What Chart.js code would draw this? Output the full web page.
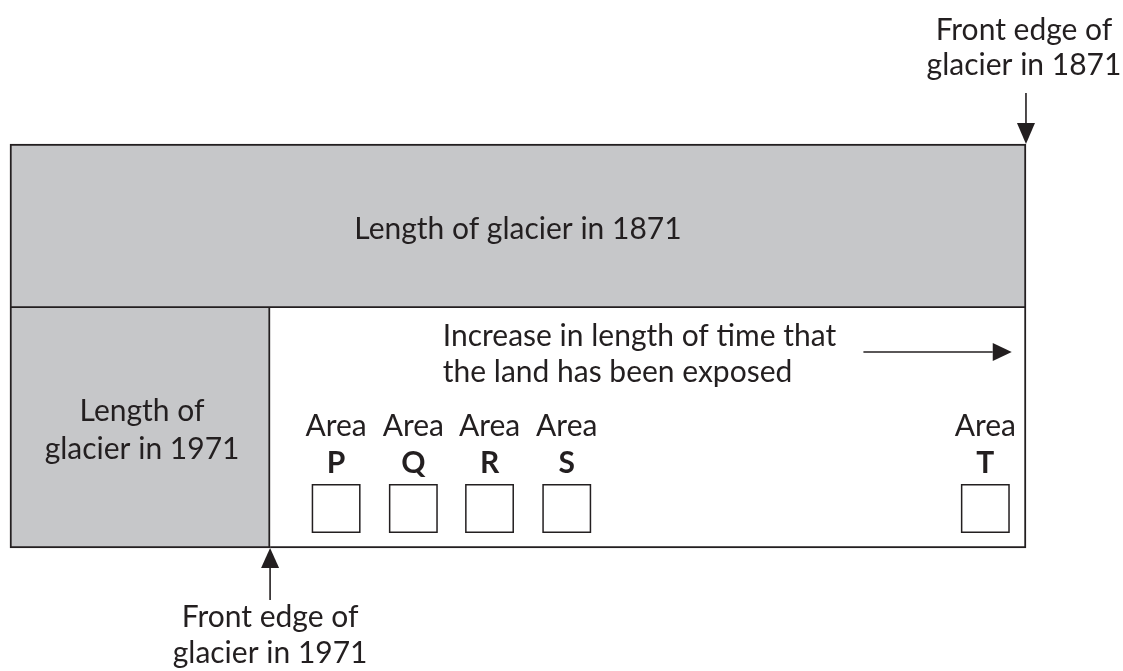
<!DOCTYPE html>
<html>
<head>
<meta charset="utf-8">
<script src="https://cdn.jsdelivr.net/npm/chart.js@4.4.1/dist/chart.umd.min.js"></script>
<style>
  html, body { margin: 0; padding: 0; background: #fff; }
  #wrap { width: 1123px; height: 671px; position: relative; }
</style>
</head>
<body>
<div id="wrap"><canvas id="glacier"></canvas></div>
<script>
// lengths are % of the 1871 glacier length, measured from the glacier head
const years = ['1871', '1971'];
const glacierLength = [100, 25.6];
const areaNames = ['P', 'Q', 'R', 'S', 'T'];
const areaPos = [32.1, 39.7, 47.2, 54.8, 96.0];

const INK = '#231f20';
const GREY = '#c6c7c9';
const FONT = 'Lato, "Open Sans", sans-serif';
const SIZE = '30px ';

// vertical layout (y scale runs 0..671 top-down)
const rowTop = { '1871': [144, 308], '1971': [308, 548] };
const mid = r => (r[0] + r[1]) / 2;
const thick = r => r[1] - r[0];
const boxRow = 508.5;

function arrow(ctx, x1, y1, x2, y2, head, half) {
  const a = Math.atan2(y2 - y1, x2 - x1);
  const bx = x2 - Math.cos(a) * head, by = y2 - Math.sin(a) * head;
  ctx.beginPath();
  ctx.moveTo(x1, y1);
  ctx.lineTo(bx, by);
  ctx.stroke();
  ctx.beginPath();
  ctx.moveTo(x2, y2);
  ctx.lineTo(bx + Math.sin(a) * half, by - Math.cos(a) * half);
  ctx.lineTo(bx - Math.sin(a) * half, by + Math.cos(a) * half);
  ctx.closePath();
  ctx.fill();
}

const labelsPlugin = {
  id: 'glacierLabels',
  afterDatasetsDraw(chart) {
    const ctx = chart.ctx;
    const xs = chart.scales.x, ys = chart.scales.y;
    const px = v => xs.getPixelForValue(v);
    const py = v => ys.getPixelForValue(v);
    ctx.save();
    ctx.fillStyle = INK;
    ctx.strokeStyle = INK;
    ctx.lineWidth = 1.6;
    ctx.textBaseline = 'alphabetic';
    ctx.font = SIZE + FONT;

    // front edge 1871
    const e1 = px(glacierLength[0]);
    ctx.textAlign = 'center';
    ctx.fillText('Front edge of', e1 - 2, py(40));
    ctx.fillText('glacier in ' + years[0], e1 - 2, py(75));
    arrow(ctx, e1, py(93), e1, py(rowTop['1871'][0]), 21, 9);

    // front edge 1971
    const e2 = px(glacierLength[1]);
    arrow(ctx, e2, py(600), e2, py(rowTop['1971'][1]), 20, 9);
    ctx.fillText('Front edge of', e2, py(627));
    ctx.fillText('glacier in ' + years[1], e2, py(663));

    // glacier lengths
    ctx.fillText('Length of glacier in ' + years[0], px(glacierLength[0] / 2), py(239));
    ctx.fillText('Length of', px(glacierLength[1] / 2) + 2, py(421));
    ctx.fillText('glacier in ' + years[1], px(glacierLength[1] / 2) + 2, py(459));

    // exposure note
    ctx.textAlign = 'left';
    ctx.fillText('Increase in length of time that', px(42.6), py(346));
    ctx.fillText('the land has been exposed', px(42.6), py(382));
    arrow(ctx, px(84), py(352), px(98.6), py(352), 19, 9);

    // area labels
    ctx.textAlign = 'center';
    areaNames.forEach((n, i) => {
      ctx.font = SIZE + FONT;
      ctx.fillText('Area', px(areaPos[i]), py(436));
      ctx.font = 'bold ' + SIZE + FONT;
      ctx.fillText(n, px(areaPos[i]), py(473));
    });
    ctx.restore();
  }
};

const base = { borderColor: INK, borderSkipped: false, grouped: false };

new Chart(document.getElementById('glacier'), {
  type: 'bar',
  data: {
    datasets: [
      Object.assign({
        label: 'Length of glacier in 1871',
        data: [{ x: [0, glacierLength[0]], y: mid(rowTop['1871']) }],
        backgroundColor: GREY,
        borderWidth: 2,
        barThickness: thick(rowTop['1871']),
        order: 3
      }, base),
      Object.assign({
        label: 'Exposed land',
        data: [{ x: [glacierLength[1], glacierLength[0]], y: mid(rowTop['1971']) }],
        backgroundColor: '#ffffff',
        borderWidth: { top: 0, left: 0, right: 2, bottom: 2 },
        barThickness: thick(rowTop['1971']),
        order: 2
      }, base),
      Object.assign({
        label: 'Length of glacier in 1971',
        data: [{ x: [0, glacierLength[1]], y: mid(rowTop['1971']) }],
        backgroundColor: GREY,
        borderWidth: { top: 0, left: 2, right: 2, bottom: 2 },
        barThickness: thick(rowTop['1971']),
        order: 1
      }, base),
      {
        type: 'scatter',
        label: 'Areas',
        data: areaPos.map(x => ({ x: x, y: boxRow })),
        pointStyle: 'rect',
        pointRadius: 33.5,
        pointHoverRadius: 33.5,
        backgroundColor: '#ffffff',
        borderColor: INK,
        borderWidth: 1.5,
        order: 0
      }
    ]
  },
  options: {
    indexAxis: 'y',
    responsive: true,
    maintainAspectRatio: false,
    animation: false,
    events: [],
    layout: { padding: 0, autoPadding: false },
    plugins: { legend: { display: false }, tooltip: { enabled: false } },
    scales: {
      x: { type: 'linear', min: -0.984, max: 109.55, display: false, offset: false, grace: 0 },
      y: { type: 'linear', min: 0, max: 671, reverse: true, display: false, offset: false, grace: 0 }
    }
  },
  plugins: [labelsPlugin]
});
</script>
</body>
</html>
